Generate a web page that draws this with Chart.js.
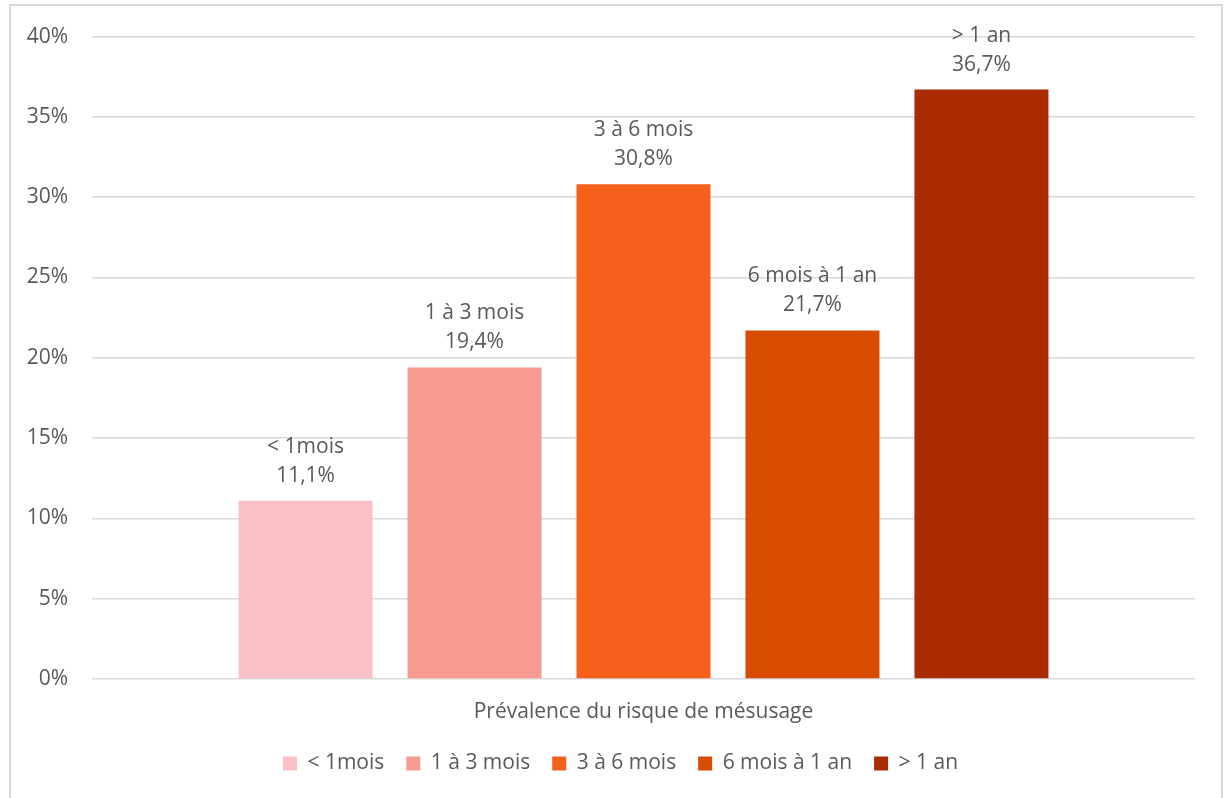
<!DOCTYPE html>
<html lang="fr">
<head>
<meta charset="utf-8">
<script src="https://cdn.jsdelivr.net/npm/chart.js@4.4.1/dist/chart.umd.min.js"></script>
<style>
  html, body { margin: 0; padding: 0; background: #fff; }
  #wrap { position: relative; width: 1225px; height: 798px; overflow: hidden; }
  #frame {
    position: absolute; left: 9px; top: 4px; width: 1210px; height: 820px;
    border: 2px solid #d9d9d9; pointer-events: none;
  }
</style>
</head>
<body>
<div id="wrap">
  <canvas id="chart"></canvas>
  <div id="frame"></div>
</div>
<script>
const categories = ['Prévalence du risque de mésusage'];
const durations = ['< 1mois', '1 à 3 mois', '3 à 6 mois', '6 mois à 1 an', '> 1 an'];
const prevalence = [11.1, 19.4, 30.8, 21.7, 36.7];
const barColors = ['#f9c0c5', '#f79b90', '#f5601a', '#d64c00', '#a82c00'];
const yTicks = [0, 5, 10, 15, 20, 25, 30, 35, 40];

const FONT = "'Open Sans', 'Noto Sans', sans-serif";
const GREY = '#595959';
const SIZE = 21;

const fmt = v => v.toFixed(1).replace('.', ',') + '%';

// two-line label above each bar: duration, then value
const barLabels = {
  id: 'barLabels',
  afterDatasetsDraw(chart) {
    const ctx = chart.ctx;
    ctx.save();
    ctx.font = SIZE + 'px ' + FONT;
    ctx.fillStyle = GREY;
    ctx.textAlign = 'center';
    ctx.textBaseline = 'middle';
    chart.data.datasets.forEach((ds, i) => {
      const bar = chart.getDatasetMeta(i).data[0];
      ctx.fillText(ds.label, bar.x, bar.y - 54);
      ctx.fillText(fmt(ds.data[0]), bar.x, bar.y - 25);
    });
    ctx.restore();
  }
};

// centre the legend row on the plot area rather than the whole canvas
const legendShift = {
  id: 'legendShift',
  afterLayout(chart) {
    chart.legend.left += 23;
    chart.legend.right += 23;
  }
};

new Chart(document.getElementById('chart'), {
  type: 'bar',
  data: {
    labels: categories,
    datasets: durations.map((d, i) => ({
      label: d,
      data: [prevalence[i]],
      backgroundColor: barColors[i],
      categoryPercentage: 0.766,
      barPercentage: 0.793
    }))
  },
  options: {
    responsive: true,
    maintainAspectRatio: false,
    animation: false,
    layout: { padding: { top: 31, right: 30, left: 0, bottom: 14 } },
    plugins: {
      legend: {
        position: 'bottom',
        labels: {
          boxWidth: 14,
          boxHeight: 14,
          padding: 22,
          color: GREY,
          font: { family: FONT, size: SIZE }
        }
      },
      tooltip: { enabled: false }
    },
    scales: {
      x: {
        afterFit(scale) { scale.height = 52; },
        grid: { display: false, drawTicks: false },
        border: { display: false },
        ticks: { color: GREY, padding: 20, font: { family: FONT, size: SIZE } }
      },
      y: {
        min: 0,
        max: 40,
        afterFit(scale) { scale.width = 92; },
        afterBuildTicks(scale) { scale.ticks = yTicks.map(v => ({ value: v })); },
        grid: { color: '#d9d9d9', lineWidth: 1.5, drawTicks: false },
        border: { display: false },
        ticks: {
          color: GREY,
          padding: 24,
          font: { family: FONT, size: SIZE },
          callback: v => v + '%'
        }
      }
    }
  },
  plugins: [barLabels, legendShift]
});
</script>
</body>
</html>
